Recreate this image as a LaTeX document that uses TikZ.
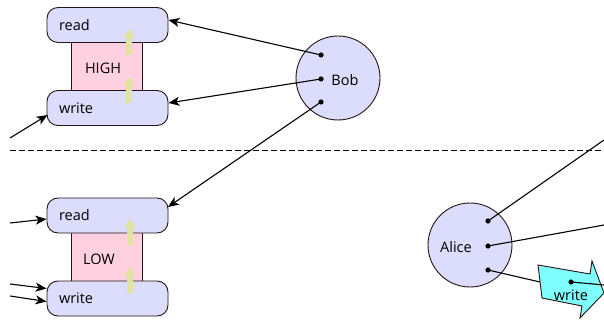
\documentclass[tikz,border=0pt]{standalone}
\usepackage{fontspec}
\setmainfont{Open Sans}
\usetikzlibrary{arrows.meta}
\definecolor{lav}{RGB}{220,220,252}
\definecolor{pinkf}{RGB}{255,208,224}
\definecolor{yel}{RGB}{224,228,160}
\definecolor{cyanf}{RGB}{128,255,255}
\definecolor{edge}{RGB}{40,20,20}
\tikzset{
  pill/.style={draw=edge, line width=0.9pt, fill=lav, rounded corners=11pt,
    minimum width=121pt, minimum height=35pt, text width=97pt, inner xsep=12pt, align=left},
  level/.style={draw=edge, line width=0.9pt, fill=pinkf, minimum width=71pt},
  agent/.style={draw=edge, line width=0.9pt, fill=lav, circle, minimum size=84pt, inner sep=0pt},
  conn/.style={line width=1.1pt, -{Stealth[length=11pt,width=9pt,inset=3pt]}},
  plain/.style={line width=1.1pt},
  sep/.style={line width=0.9pt, dash pattern=on 5.5pt off 3.5pt},
  dotc/.style={fill=black},
  lbl/.style={inner sep=0pt},
  up/.pic={\fill[yel] (-2.8,0) -- (-2.8,-18) -- (-5.5,-18) -- (0,-26) -- (5.5,-18) -- (2.8,-18) -- (2.8,0) -- cycle;}
}
\begin{document}
\begin{tikzpicture}[x=1pt,y=-1pt, font=\fontsize{14.5}{16}\selectfont]
\useasboundingbox (0,0) rectangle (604,320);
% HIGH level
\node[level, minimum height=52pt] (highr) at (106.5,66.5) {};
\node[pill] (readH) at (107.5,25) {read};
\node[pill] (writeH) at (107.5,108) {write};
\node[lbl] (highl) at (103,68) {HIGH};
\pic at (129,55) {up};
\pic at (129,103) {up};
% LOW level
\node[level, minimum height=50pt] (lowr) at (106.5,256.5) {};
\node[pill] (readL) at (107.5,215.5) {read};
\node[pill] (writeL) at (107.5,298.5) {write};
\node[lbl] (lowl) at (99,259) {LOW};
\pic at (130,245) {up};
\pic at (130,293) {up};
% separator
\coordinate (sl) at (10,150);
\coordinate (sr) at (604,150);
\draw[sep] (sl) -- (sr);
% Bob
\node[agent] (bob) at (338,78) {};
\node[lbl] (bobl) at (345,80) {Bob};
\coordinate (b1) at (321,55);
\coordinate (b2) at (321,79);
\coordinate (b3) at (321,102);
\draw[conn] (b1) -- ([yshift=5pt]readH.east);
\draw[conn] (b2) -- ([yshift=5pt]writeH.east);
\draw[conn] (b3) -- ([yshift=8.5pt,xshift=-0.5pt]readL.east);
\foreach \p in {b1,b2,b3} \fill[dotc] (\p) circle (2.6pt);
% left incoming arrows
\coordinate (in1) at (10,138);
\coordinate (in2) at (10,223);
\coordinate (in3) at (10,284);
\coordinate (in4) at (10,296);
\draw[conn] (in1) -- ([xshift=1pt,yshift=-7pt]writeH.west);
\draw[conn] (in2) -- ([yshift=-3.5pt]readL.west);
\draw[conn] (in3) -- ([yshift=10pt]writeL.west);
\draw[conn] (in4) -- ([yshift=-3pt]writeL.west);
% Alice
\node[agent] (alice) at (470,245) {};
\node[lbl] (alicel) at (456,247) {Alice};
\coordinate (a1) at (488,221);
\coordinate (a2) at (488,246);
\coordinate (a3) at (488,270);
\coordinate (o1) at (604,140);
\coordinate (o2) at (604,225);
\coordinate (wc) at (566,288);
\draw[plain] (a1) -- (o1);
\draw[plain] (a2) -- (o2);
\draw[plain] (a3) -- (wc);
% write action
\draw[draw=edge, line width=0.9pt, fill=cyanf, line join=miter]
  (538,265) -- (590,274) -- (592,261) -- (604,293) -- (580,318) -- (582,306) -- (542,298) -- cycle;
\node[lbl] (wrl) at (571,295) {write};
\coordinate (w1) at (571,282);
\coordinate (o3) at (604,285);
\draw[plain] (w1) -- (o3);
\foreach \p in {a1,a2,a3,w1} \fill[dotc] (\p) circle (2.6pt);
\end{tikzpicture}
\end{document}
